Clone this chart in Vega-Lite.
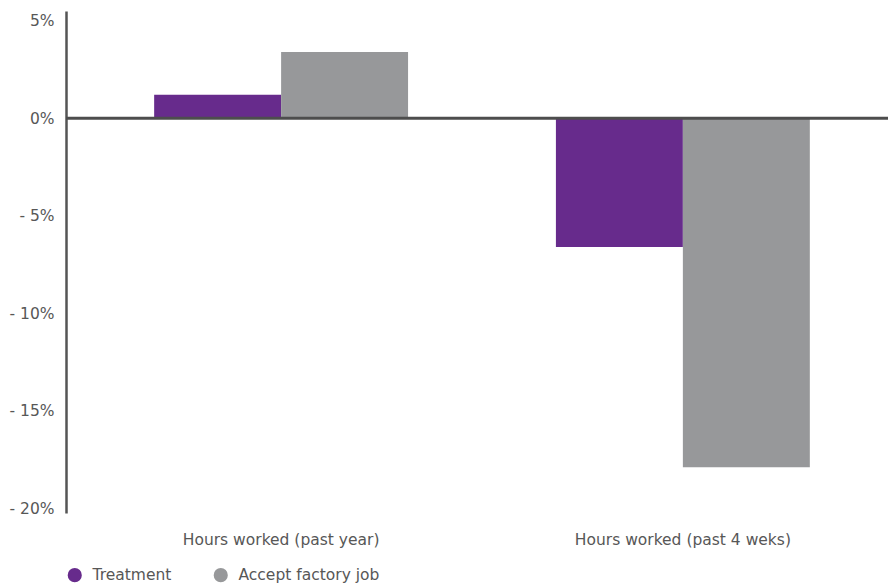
{
  "$schema": "https://vega.github.io/schema/vega-lite/v6.json",
  "autosize": "none",
  "width": 822,
  "height": 502,
  "padding": {"left": 66, "top": 11, "right": 0, "bottom": 72},
  "background": "white",
  "config": {
    "view": {"stroke": null},
    "font": "DejaVu Sans",
    "axis": {"labelFont": "DejaVu Sans", "labelColor": "#575757", "labelFontSize": 15.5, "grid": false, "labelLimit": 400},
    "legend": {"labelFont": "DejaVu Sans", "labelColor": "#575757", "labelFontSize": 15.5, "labelLimit": 400}
  },
  "data": {
    "values": [
      {"measure": "Hours worked (past year)", "group": "Treatment", "change": 1.2},
      {"measure": "Hours worked (past year)", "group": "Accept factory job", "change": 3.4},
      {"measure": "Hours worked (past 4 weks)", "group": "Treatment", "change": -6.6},
      {"measure": "Hours worked (past 4 weks)", "group": "Accept factory job", "change": -17.9}
    ]
  },
  "layer": [
    {
      "mark": {"type": "bar"},
      "encoding": {
        "x": {
          "field": "measure",
          "type": "nominal",
          "sort": null,
          "scale": {"paddingInner": 0.368, "paddingOuter": 0.207, "align": 0.53},
          "axis": {"title": null, "labelAngle": 0, "domain": false, "ticks": false, "labelPadding": 19}
        },
        "xOffset": {
          "field": "group",
          "type": "nominal",
          "sort": ["Treatment", "Accept factory job"],
          "scale": {"paddingInner": 0, "paddingOuter": 0}
        },
        "y": {
          "field": "change",
          "type": "quantitative",
          "scale": {"domain": [-20.25, 5.5], "nice": false, "zero": false},
          "axis": {
            "title": null,
            "values": [-20, -15, -10, -5, 0, 5],
            "labelExpr": "datum.value < 0 ? '- ' + (-datum.value) + '%' : datum.value + '%'",
            "ticks": false,
            "labelPadding": 12,
            "domainColor": "#555555",
            "domainWidth": 2.5
          }
        },
        "color": {
          "field": "group",
          "type": "nominal",
          "scale": {"domain": ["Treatment", "Accept factory job"], "range": ["#672b8c", "#97989a"]},
          "legend": {
            "title": null,
            "orient": "none",
            "direction": "horizontal",
            "legendX": 1,
            "legendY": 556,
            "symbolType": "circle",
            "symbolSize": 200,
            "symbolStrokeWidth": 0,
            "symbolOffset": 0,
            "labelOffset": 10,
            "columnPadding": 41
          }
        }
      }
    },
    {
      "data": {"values": [{"zero": 0}]},
      "mark": {"type": "rule", "color": "#4d4d4d", "strokeWidth": 3},
      "encoding": {
        "y": {"field": "zero", "type": "quantitative"}
      }
    }
  ]
}
